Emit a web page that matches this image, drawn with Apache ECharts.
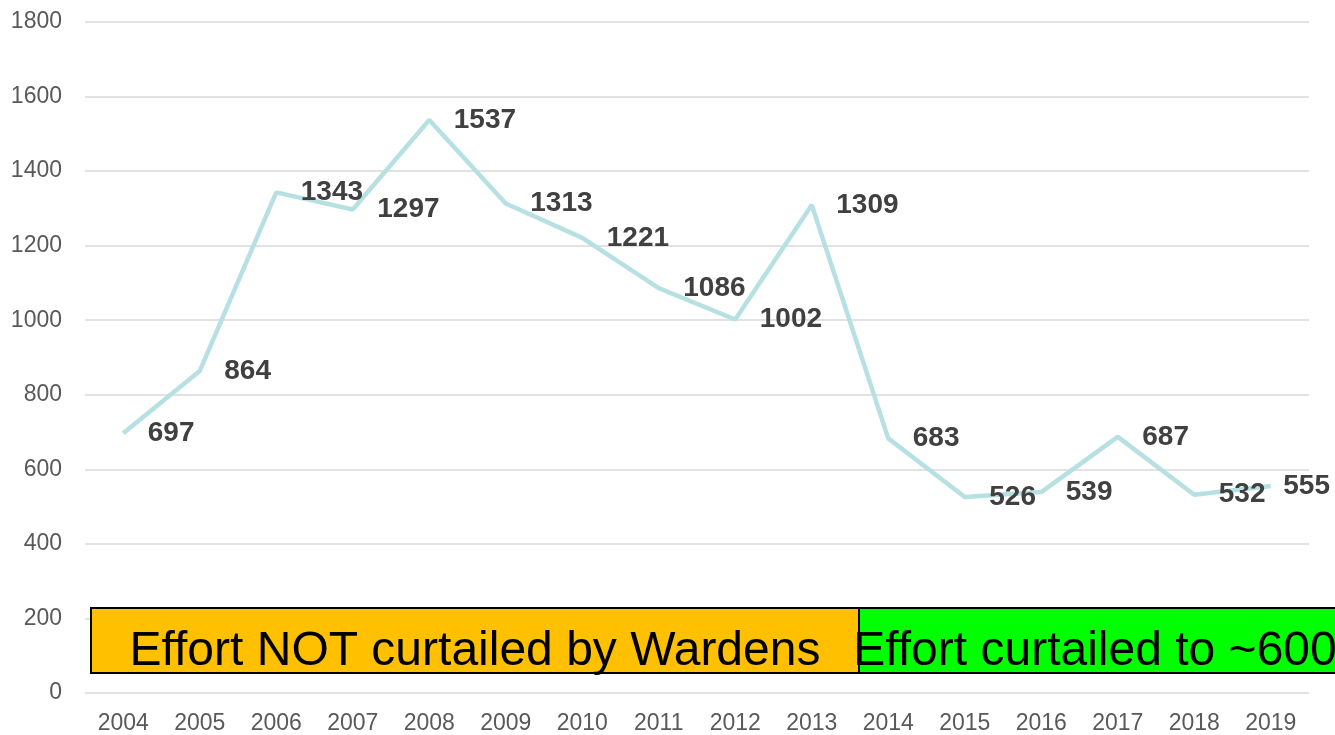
<!DOCTYPE html>
<html><head><meta charset="utf-8">
<script src="https://cdn.jsdelivr.net/npm/echarts@6/dist/echarts.min.js"></script>
<style>html,body{margin:0;padding:0;background:#fff}#c{width:1335px;height:735px}</style>
</head><body><div id="c"></div>
<script>
const years = ['2004','2005','2006','2007','2008','2009','2010','2011','2012','2013','2014','2015','2016','2017','2018','2019'];
const values = [697,864,1343,1297,1537,1313,1221,1086,1002,1309,683,526,539,687,532,555];
const boxTextLeft = 'Effort NOT curtailed by Wardens';
const boxTextRight = 'Effort curtailed to ~600';

const chart = echarts.init(document.getElementById('c'), null, {renderer:'canvas'});
const font = '"Liberation Sans", Arial, sans-serif';
chart.setOption({
  animation:false,
  grid:{left:85,right:26,top:22,bottom:41,containLabel:false},
  xAxis:{type:'category',data:years,boundaryGap:true,
    axisLine:{show:false},axisTick:{show:false},
    axisLabel:{color:'#595959',fontSize:23,fontFamily:font,margin:19}},
  yAxis:{type:'value',min:0,max:1800,interval:200,
    axisLine:{show:false},axisTick:{show:false},
    axisLabel:{color:'#595959',fontSize:23,fontFamily:font,margin:23,formatter:v=>String(v)},
    splitLine:{lineStyle:{color:'#d9d9d9',width:1.5}}},
  series:[{type:'line',data:values.map((v,i)=> i===values.length-1 ? {value:v,label:{distance:12}} : v),
    showSymbol:true,symbol:'circle',symbolSize:1,itemStyle:{color:'rgba(0,0,0,0)'},
    lineStyle:{color:'#b7e0e3',width:4.5},
    label:{show:true,position:'right',distance:24,offset:[0,3],color:'#404040',fontSize:28,fontWeight:'bold',fontFamily:font},
    labelLayout:{hideOverlap:false}}],
  graphic:[
    {type:'rect',shape:{x:91,y:608,width:768,height:65},style:{fill:'#ffc000',stroke:'#000',lineWidth:2},z:10},
    {type:'rect',shape:{x:859,y:608,width:490,height:65},style:{fill:'#00ff00',stroke:'#000',lineWidth:2},z:10},
    {type:'text',x:475,y:652,style:{text:boxTextLeft,font:'48px '+font,fill:'#000',textAlign:'center',textVerticalAlign:'middle'},z:11},
    {type:'text',x:1095,y:652,style:{text:boxTextRight,font:'48px '+font,fill:'#000',textAlign:'center',textVerticalAlign:'middle'},z:11}
  ]
});
</script></body></html>
